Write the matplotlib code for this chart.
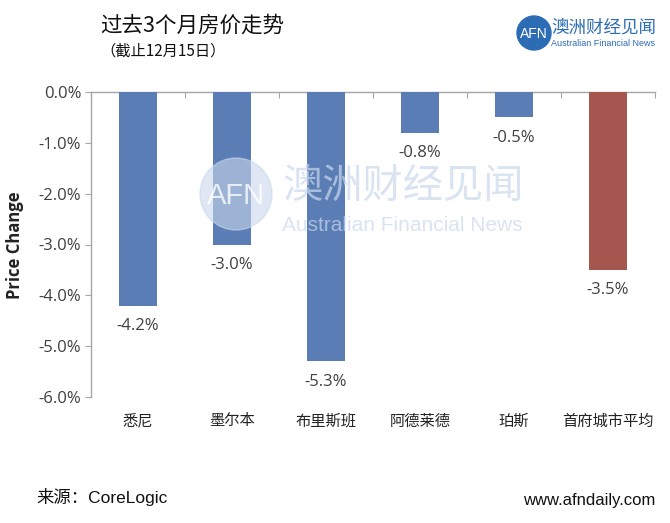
import matplotlib
matplotlib.use('Agg')
import matplotlib.pyplot as plt
import matplotlib.transforms as mtrans
from matplotlib.patches import Circle
import numpy as np

plt.rcParams['font.family'] = ['Noto Sans CJK SC', 'DejaVu Sans']

# data
cities = ['悉尼', '墨尔本', '布里斯班', '阿德莱德', '珀斯', '首府城市平均']
change = [-4.2, -3.0, -5.3, -0.8, -0.5, -3.5]
yticks = [0, -1, -2, -3, -4, -5, -6]

blue = '#5B7DB5'
red = '#A5574F'
colors = [blue] * 5 + [red]
grey = '#A6A6A6'

W, H = 670, 523
fig = plt.figure(figsize=(W / 100, H / 100), dpi=100)

def fx(px):
    return px / W

def fy(py):
    return 1 - py / H

ax = fig.add_axes([fx(91), fy(397), fx(655) - fx(91), fy(92) - fy(397)])

x = np.arange(len(cities))
ax.bar(x, change, width=0.4, color=colors, zorder=3)
ax.set_xlim(-0.5, len(cities) - 0.5)
ax.set_ylim(-6, 0)

for xi, v in zip(x, change):
    ax.annotate('%.1f%%' % v, (xi, v), xytext=(0, -14.5), textcoords='offset points',
                ha='center', va='center', fontsize=12, color='#404040',
                family=['Open Sans', 'DejaVu Sans'], zorder=4)

# axes styling
for s in ['bottom', 'right']:
    ax.spines[s].set_visible(False)
for s in ['left', 'top']:
    ax.spines[s].set_color(grey)
    ax.spines[s].set_linewidth(1.0)

ax.set_yticks(yticks)
ax.set_yticklabels(['%.1f%%' % t for t in yticks], family=['Open Sans', 'DejaVu Sans'],
                   fontsize=12, color='#404040')
ax.tick_params(axis='y', length=4, color=grey, pad=3)

ax.xaxis.set_ticks_position('top')
ax.set_xticks(np.arange(-0.5, len(cities), 1.0))
ax.set_xticklabels([])
ax.tick_params(axis='x', direction='in', length=4, color=grey)

tr = mtrans.blended_transform_factory(ax.transData, fig.transFigure)
for xi, name in zip(x, cities):
    ax.text(xi, fy(421), name, transform=tr, ha='center', va='center',
            fontsize=11, color='#222222')

fig.text(fx(15), fy(245), 'Price Change', rotation=90, ha='center', va='center',
         fontsize=12, fontweight='bold', color='#222222', family=['Open Sans', 'DejaVu Sans'])

# watermark
wm = '#C9D8EC'
fig.patches.append(Circle((236, H - 194), 36, transform=None, color=wm, alpha=0.6, zorder=5))
fig.text(fx(236), fy(196), 'AFN', ha='center', va='center', fontsize=21, color='white',
         alpha=0.8, family=['Liberation Sans'], zorder=6)
fig.text(fx(282), fy(186), '澳洲财经见闻', ha='left', va='center', fontsize=29,
         color=wm, alpha=0.7, zorder=6)
fig.text(fx(282), fy(226), 'Australian Financial News', ha='left', va='center', fontsize=15,
         color=wm, alpha=0.7, family=['Liberation Sans'], zorder=6)

# title
fig.text(fx(100), fy(26), '过去3个月房价走势', ha='left', va='center', fontsize=15.5, color='#111111')
fig.text(fx(100), fy(51), '（截止12月15日）', ha='left', va='center', fontsize=11, color='#111111')

# logo
logo = '#2C6CB5'
fig.patches.append(Circle((534, H - 33), 17, transform=None, color=logo, zorder=5))
fig.text(fx(534), fy(34), 'AFN', ha='center', va='center', fontsize=10, color='white',
         family=['Liberation Sans'], zorder=6)
fig.text(fx(551), fy(28), '澳洲财经见闻', ha='left', va='center', fontsize=12.6, color=logo)
fig.text(fx(551), fy(44), 'Australian Financial News', ha='left', va='center', fontsize=6.5,
         color=logo, family=['Liberation Sans'])

# footer
fig.text(fx(36), fy(497), '来源：CoreLogic', ha='left', va='center', fontsize=12.5,
         color='#111111', family=['Liberation Sans', 'Noto Sans CJK SC'])
fig.text(fx(655), fy(500), 'www.afndaily.com', ha='right', va='center', fontsize=12,
         color='#111111', family=['Liberation Sans'])

fig.savefig('out.png', dpi=100)
